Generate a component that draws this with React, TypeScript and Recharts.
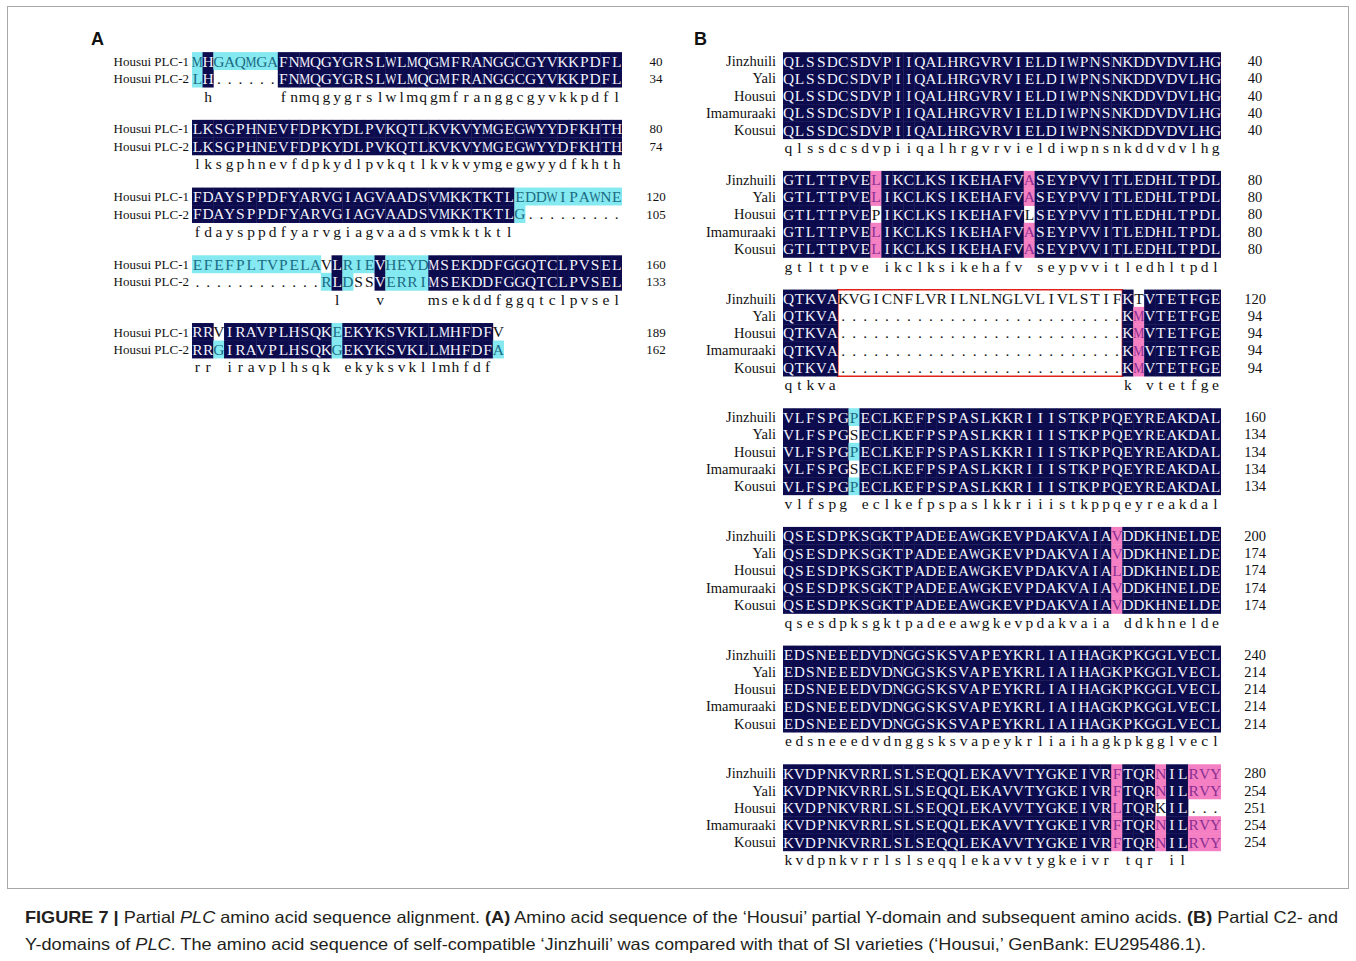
import React from 'react'
import { ScatterChart, Scatter, XAxis, YAxis, ReferenceArea } from 'recharts'

// ---------- Panel A : Housui PLC-1 vs PLC-2 ----------
const A_NAMES = ['Housui PLC-1', 'Housui PLC-2']
const A_PLC1 = [
  'MHGAQMGAFNMQGYGRSLWLMQGMFRANGGCGYVKKPDFL',
  'LKSGPHNEVFDPKYDLPVKQTLKVKVYMGEGWYYDFKHTH',
  'FDAYSPPDFYARVGIAGVAADSVMKKTKTLEDDWIPAWNE',
  'EFEFPLTVPELAVLRIEVHEYDMSEKDDFGGQTCLPVSEL',
  'RRVIRAVPLHSQKEEKYKSVKLLMHFDFV',
]
const A_PLC2 = [
  'LH......FNMQGYGRSLWLMQGMFRANGGCGYVKKPDFL',
  'LKSGPHNEVFDPKYDLPVKQTLKVKVYMGEGWYYDFKHTH',
  'FDAYSPPDFYARVGIAGVAADSVMKKTKTLG.........',
  '............RLDSSVERRIMSEKDDFGGQTCLPVSEL',
  'RRGIRAVPLHSQKGEKYKSVKLLMHFDFA',
]
const A_CONSENSUS = [
  ' h      fnmqgygrslwlmqgmfranggcgyvkkpdfl',
  'lksgphnevfdpkydlpvkqtlkvkvymgegwyydfkhth',
  'fdaysppdfyarvgiagvaadsvmkktktl          ',
  '             l   v    msekddfggqtclpvsel',
  'rr iravplhsqk ekyksvkllmhfdf ',
]
const A_ENDS = [[40, 34], [80, 74], [120, 105], [160, 133], [189, 162]]
// homology level of each residue: '#' = 100%, '+' = >=75%, '~' = >=50%, ' ' = lower
const A_LEVEL1 = [
  '~#~~~~~~' + '#'.repeat(32),
  '#'.repeat(40),
  '#'.repeat(30) + '~'.repeat(10),
  '~'.repeat(12) + ' #~~~#~~~~' + '#'.repeat(18),
  '## ' + '#'.repeat(10) + '~' + '#'.repeat(14) + ' ',
]
const A_LEVEL2 = [
  '~#      ' + '#'.repeat(32),
  '#'.repeat(40),
  '#'.repeat(30) + '~' + ' '.repeat(9),
  ' '.repeat(12) + '~#~  #~~~~' + '#'.repeat(18),
  '##~' + '#'.repeat(10) + '~' + '#'.repeat(14) + '~',
]

// ---------- Panel B : five cultivars ----------
const B_NAMES = ['Jinzhuili', 'Yali', 'Housui', 'Imamuraaki', 'Kousui']
const B_JINZHUILI = [
  'QLSSDCSDVPIIQALHRGVRVIELDIWPNSNKDDVDVLHG',
  'GTLTTPVELIKCLKSIKEHAFVASEYPVVITLEDHLTPDL',
  'QTKVAKVGICNFLVRILNLNGLVLIVLSTIFKTVTETFGE',
  'VLFSPGPECLKEFPSPASLKKRIIISTKPPQEYREAKDAL',
  'QSESDPKSGKTPADEEAWGKEVPDAKVAIAVDDKHNELDE',
  'EDSNEEEDVDNGGSKSVAPEYKRLIAIHAGKPKGGLVECL',
  'KVDPNKVRRLSLSEQQLEKAVVTYGKEIVRFTQRNILRVY',
]
const B_YALI = [
  'QLSSDCSDVPIIQALHRGVRVIELDIWPNSNKDDVDVLHG',
  'GTLTTPVELIKCLKSIKEHAFVASEYPVVITLEDHLTPDL',
  'QTKVA..........................KMVTETFGE',
  'VLFSPGSECLKEFPSPASLKKRIIISTKPPQEYREAKDAL',
  'QSESDPKSGKTPADEEAWGKEVPDAKVAIAVDDKHNELDE',
  'EDSNEEEDVDNGGSKSVAPEYKRLIAIHAGKPKGGLVECL',
  'KVDPNKVRRLSLSEQQLEKAVVTYGKEIVRFTQRNILRVY',
]
const B_HOUSUI = [
  'QLSSDCSDVPIIQALHRGVRVIELDIWPNSNKDDVDVLHG',
  'GTLTTPVEPIKCLKSIKEHAFVLSEYPVVITLEDHLTPDL',
  'QTKVA..........................KMVTETFGE',
  'VLFSPGPECLKEFPSPASLKKRIIISTKPPQEYREAKDAL',
  'QSESDPKSGKTPADEEAWGKEVPDAKVAIALDDKHNELDE',
  'EDSNEEEDVDNGGSKSVAPEYKRLIAIHAGKPKGGLVECL',
  'KVDPNKVRRLSLSEQQLEKAVVTYGKEIVRLTQRKIL...',
]
const B_IMAMURAAKI = [
  'QLSSDCSDVPIIQALHRGVRVIELDIWPNSNKDDVDVLHG',
  'GTLTTPVELIKCLKSIKEHAFVASEYPVVITLEDHLTPDL',
  'QTKVA..........................KMVTETFGE',
  'VLFSPGSECLKEFPSPASLKKRIIISTKPPQEYREAKDAL',
  'QSESDPKSGKTPADEEAWGKEVPDAKVAIAVDDKHNELDE',
  'EDSNEEEDVDNGGSKSVAPEYKRLIAIHAGKPKGGLVECL',
  'KVDPNKVRRLSLSEQQLEKAVVTYGKEIVRFTQRNILRVY',
]
const B_KOUSUI = [
  'QLSSDCSDVPIIQALHRGVRVIELDIWPNSNKDDVDVLHG',
  'GTLTTPVELIKCLKSIKEHAFVASEYPVVITLEDHLTPDL',
  'QTKVA..........................KMVTETFGE',
  'VLFSPGPECLKEFPSPASLKKRIIISTKPPQEYREAKDAL',
  'QSESDPKSGKTPADEEAWGKEVPDAKVAIAVDDKHNELDE',
  'EDSNEEEDVDNGGSKSVAPEYKRLIAIHAGKPKGGLVECL',
  'KVDPNKVRRLSLSEQQLEKAVVTYGKEIVRFTQRNILRVY',
]
const B_CONSENSUS = [
  'qlssdcsdvpiiqalhrgvrvieldiwpnsnkddvdvlhg',
  'gtlttpve ikclksikehafv seypvvitledhltpdl',
  'qtkva                          k vtetfge',
  'vlfspg eclkefpspaslkkriiistkppqeyreakdal',
  'qsesdpksgktpadeeawgkevpdakvaia ddkhnelde',
  'edsneeedvdnggsksvapeykrliaihagkpkgglvecl',
  'kvdpnkvrrlslseqqlekavvtygkeivr tqr il   ',
]
const B_ENDS = [
  [40, 40, 40, 40, 40],
  [80, 80, 80, 80, 80],
  [120, 94, 94, 94, 94],
  [160, 134, 134, 134, 134],
  [200, 174, 174, 174, 174],
  [240, 214, 214, 214, 214],
  [280, 254, 251, 254, 254],
]
const ALL = '#'.repeat(40)
const B2_MAIN = '########+#############+#################'
const B2_ALT = '######## ############# #################'
const B3_J = '#####' + ' '.repeat(26) + '# #######'
const B3_REST = '#####' + ' '.repeat(26) + '#+#######'
const B4_P = '######~' + '#'.repeat(33)
const B4_S = '###### ' + '#'.repeat(33)
const B5_ALL = '#'.repeat(30) + '+' + '#'.repeat(9)
const B7_MAIN = '#'.repeat(30) + '+###+##+++'
const B7_ALT = '#'.repeat(30) + '+### ##   '
const B_LEVELS = [
  [ALL, B2_MAIN, B3_J, B4_P, B5_ALL, ALL, B7_MAIN],
  [ALL, B2_MAIN, B3_REST, B4_S, B5_ALL, ALL, B7_MAIN],
  [ALL, B2_ALT, B3_REST, B4_P, B5_ALL, ALL, B7_ALT],
  [ALL, B2_MAIN, B3_REST, B4_S, B5_ALL, ALL, B7_MAIN],
  [ALL, B2_MAIN, B3_REST, B4_P, B5_ALL, ALL, B7_MAIN],
]

// ---------- styling ----------
const NAVY = '#0c0b4e'
const PINK = '#f57fc3'
const CYAN = '#84e9f0'
const FILL: Record<string, string | undefined> = { '#': NAVY, '+': PINK, '~': CYAN }
const INK: Record<string, string> = { '#': '#f2f2fa', '+': '#8a2f92', '~': '#1c6b84', ' ': '#111', c: '#111' }
const SERIF = "'Liberation Serif', 'Times New Roman', serif"
const SANS = "'Liberation Sans', Arial, Helvetica, sans-serif"

type Cell = { x: number; y: number; ch: string; level: string }

function buildCells(
  seqs: string[][],
  levels: string[][],
  consensus: string[],
  rowY: (b: number, r: number) => number,
) {
  const cells: Cell[] = []
  consensus.forEach((cons, b) => {
    seqs.forEach((seq, s) => {
      const str = seq[b]
      for (let c = 0; c < str.length; c++) {
        cells.push({ x: c + 0.5, y: rowY(b, s), ch: str[c], level: levels[s][b][c] || ' ' })
      }
    })
    for (let c = 0; c < cons.length; c++) {
      if (cons[c] !== ' ') cells.push({ x: c + 0.5, y: rowY(b, seqs.length), ch: cons[c], level: 'c' })
    }
  })
  return cells
}

const cellShape = (colPx: number, rowPx: number, fontSize: number) => (props: any) => {
  const { cx, cy, payload } = props
  const fill = FILL[payload.level]
  const wide = payload.ch === 'M' || payload.ch === 'W'
  return (
    <g>
      {fill && (
        <rect x={cx - colPx / 2 - 0.2} y={cy - rowPx / 2 - 0.2} width={colPx + 0.4} height={rowPx + 0.4} fill={fill} />
      )}
      <text
        transform={`translate(${cx},${cy}) scale(${wide ? 0.8 : 1},1)`}
        textAnchor="middle"
        dy="0.35em"
        fontFamily={SERIF}
        fontSize={fontSize}
        fill={INK[payload.level]}
      >
        {payload.ch}
      </text>
    </g>
  )
}

// layout in row units
const A_ROW = 17.5
const A_FIRST = 3.49
const A_STEP = 3.87
const aRow = (b: number, r: number) => A_FIRST + b * A_STEP + r
const B_ROW = 17.3
const B_FIRST = 3.53
const B_STEP = 6.86
const bRow = (b: number, r: number) => B_FIRST + b * B_STEP + r

const A_CELLS = buildCells([A_PLC1, A_PLC2], [A_LEVEL1, A_LEVEL2], A_CONSENSUS, aRow)
const B_CELLS = buildCells(
  [B_JINZHUILI, B_YALI, B_HOUSUI, B_IMAMURAAKI, B_KOUSUI],
  B_LEVELS,
  B_CONSENSUS,
  bRow,
)

function rowTicks(names: string[], ends: number[][], rowY: (b: number, r: number) => number) {
  const values: number[] = []
  const labels: string[] = []
  const nums: string[] = []
  ends.forEach((row, b) => {
    names.forEach((n, s) => {
      values.push(rowY(b, s))
      labels.push(n)
      nums.push(String(row[s]))
    })
  })
  return { values, labels, nums }
}

const A_TICKS = rowTicks(A_NAMES, A_ENDS, aRow)
const B_TICKS = rowTicks(B_NAMES, B_ENDS, bRow)

const nameTick = (labels: string[], fontSize: number) => (props: any) => (
  <text x={props.x} y={props.y} dy="0.35em" textAnchor="end" fontFamily={SERIF} fontSize={fontSize} fill="#111">
    {labels[props.index]}
  </text>
)
const numTick = (nums: string[], fontSize: number) => (props: any) => (
  <text x={props.x} y={props.y} dy="0.35em" textAnchor="middle" fontFamily={SERIF} fontSize={fontSize} fill="#111">
    {nums[props.index]}
  </text>
)

interface PanelProps {
  cells: Cell[]
  ticks: { values: number[]; labels: string[]; nums: string[] }
  width: number
  height: number
  rowPx: number
  leftW: number
  rightW: number
  nameGap: number
  nameSize: number
  seqSize: number
  children?: React.ReactNode
}

const Panel: React.FC<PanelProps> = ({ cells, ticks, width, height, rowPx, leftW, rightW, nameGap, nameSize, seqSize, children }) => {
  const colPx = (width - leftW - rightW) / 40
  const domain = [0, height / rowPx]
  return (
    <ScatterChart width={width} height={height} margin={{ top: 0, right: 0, bottom: 0, left: 0 }}>
      <XAxis type="number" dataKey="x" domain={[0, 40]} hide allowDataOverflow />
      <YAxis
        yAxisId="names"
        type="number"
        dataKey="y"
        domain={domain}
        reversed
        allowDataOverflow
        width={leftW}
        ticks={ticks.values}
        interval={0}
        tickSize={0}
        tickMargin={nameGap}
        axisLine={false}
        tickLine={false}
        tick={nameTick(ticks.labels, nameSize)}
      />
      <YAxis
        yAxisId="nums"
        orientation="right"
        type="number"
        dataKey="y"
        domain={domain}
        reversed
        allowDataOverflow
        width={rightW}
        ticks={ticks.values}
        interval={0}
        tickSize={0}
        tickMargin={34}
        axisLine={false}
        tickLine={false}
        tick={numTick(ticks.nums, nameSize)}
      />
      <Scatter yAxisId="names" data={cells} isAnimationActive={false} shape={cellShape(colPx, rowPx, seqSize)} />
      {children}
    </ScatterChart>
  )
}

export default function App() {
  return (
    <div style={{ position: 'relative', width: 1356, height: 961, background: '#fff' }}>
      <style>{'body{margin:0}'}</style>
      <svg width={1356} height={961} style={{ position: 'absolute', left: 0, top: 0 }}>
        <rect x={7.5} y={6.5} width={1341} height={882} fill="none" stroke="#a8a8a8" strokeWidth={1} />
        <text x={91} y={45} fontFamily={SANS} fontWeight="bold" fontSize={18} fill="#111">A</text>
        <text x={694} y={45} fontFamily={SANS} fontWeight="bold" fontSize={18} fill="#111">B</text>
        <text x={25} y={923} fontFamily={SANS} fontSize={16.5} fill="#231f20" textLength={1313} lengthAdjust="spacingAndGlyphs">
          <tspan fontWeight="bold">FIGURE 7 |</tspan>
          {' Partial '}
          <tspan fontStyle="italic">PLC</tspan>
          {' amino acid sequence alignment. '}
          <tspan fontWeight="bold">(A)</tspan>
          {' Amino acid sequence of the \u2018Housui\u2019 partial Y-domain and subsequent amino acids. '}
          <tspan fontWeight="bold">(B)</tspan>
          {' Partial C2- and'}
        </text>
        <text x={25} y={950} fontFamily={SANS} fontSize={16.5} fill="#231f20" textLength={1181} lengthAdjust="spacingAndGlyphs">
          {'Y-domains of '}
          <tspan fontStyle="italic">PLC</tspan>
          {'. The amino acid sequence of self-compatible \u2018Jinzhuili\u2019 was compared with that of SI varieties (\u2018Housui,\u2019 GenBank: EU295486.1).'}
        </text>
      </svg>
      <div style={{ position: 'absolute', left: 0, top: 0 }}>
        <Panel
          cells={A_CELLS}
          ticks={A_TICKS}
          width={690}
          height={400}
          rowPx={A_ROW}
          leftW={192}
          rightW={68}
          nameGap={3}
          nameSize={13}
          seqSize={15.5}
        />
      </div>
      <div style={{ position: 'absolute', left: 690, top: 0 }}>
        <Panel
          cells={B_CELLS}
          ticks={B_TICKS}
          width={610}
          height={880}
          rowPx={B_ROW}
          leftW={93}
          rightW={79}
          nameGap={7}
          nameSize={14.5}
          seqSize={15.5}
        >
          <ReferenceArea
            yAxisId="names"
            x1={5}
            x2={31}
            y1={bRow(2, -0.5)}
            y2={bRow(2, 4.5)}
            fill="none"
            fillOpacity={0}
            stroke="#e3211c"
            strokeWidth={1.6}
            ifOverflow="visible"
          />
        </Panel>
      </div>
    </div>
  )
}
